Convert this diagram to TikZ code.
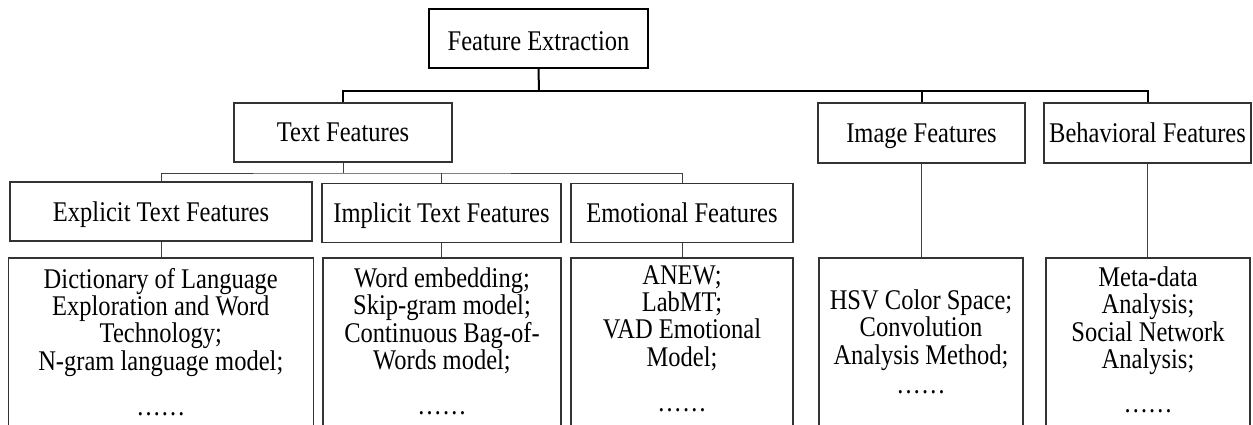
\documentclass[tikz,border=0pt]{standalone}
\usepackage{fontspec}
\setmainfont[FakeStretch=0.86]{Liberation Serif}
\begin{document}
\begin{tikzpicture}[x=1pt,y=-1pt,
  every node/.style={font=\fontsize{28.5}{25.5}\selectfont},
  box/.style={draw=black!80,line width=1.1pt,rectangle,inner sep=0pt},
  hbox/.style={box,text height=19pt,text depth=0pt,minimum height=59pt},
  detail/.style={box,minimum height=174pt},
  body/.style={anchor=base,inner sep=0pt},
  main/.style={line width=2pt,black},
  sub/.style={line width=0.9pt,black!75}]
\clip (0,0) rectangle (1253,425);
\fill[white] (0,0) rectangle (1253,425);
% level 0
\node[hbox,line width=1.3pt,draw=black,minimum width=219pt,text height=25pt] (fe) at (538.5,38.5) {Feature Extraction};
% level 1
\node[hbox,minimum width=218pt] (tf) at (343,132.5) {Text Features};
\node[hbox,minimum width=207pt,minimum height=60pt] (img) at (921.5,133) {Image Features};
\node[hbox,minimum width=207pt,minimum height=60pt] (beh) at (1147.5,133) {Behavioral Features};
% level 2
\node[hbox,minimum width=302pt] (ex) at (161,211.5) {Explicit Text Features};
\node[hbox,minimum width=239pt] (im) at (441.5,213) {Implicit Text Features};
\node[hbox,minimum width=222pt] (emo) at (682,212.7) {Emotional Features};
% detail boxes
\node[detail,minimum width=305pt] (exd) at (160.8,345) {};
\node[detail,minimum width=238pt] (imd) at (442,345) {};
\node[detail,minimum width=222pt] (emod) at (682,345) {};
\node[detail,minimum width=204pt] (imgd) at (921,345) {};
\node[detail,minimum width=204pt] (behd) at (1148,345) {};
% detail texts
\node[body] (exdt) at (160.8,288) {\begin{tabular}[t]{@{}c@{}}Dictionary of Language\\Exploration and Word\\Technology;\\N-gram language model;\\[20pt]……\end{tabular}};
\node[body] (imdt) at (442,287) {\begin{tabular}[t]{@{}c@{}}Word embedding;\\Skip-gram model;\\Continuous Bag-of-\\Words model;\\[19pt]……\end{tabular}};
\node[body] (emodt) at (682,284) {\begin{tabular}[t]{@{}c@{}}ANEW;\\LabMT;\\VAD Emotional\\Model;\\[20pt]……\end{tabular}};
\node[body] (imgdt) at (921,309.5) {\begin{tabular}[t]{@{}c@{}}HSV Color Space;\\Convolution\\Analysis Method;\\[4pt]……\end{tabular}};
\node[body] (behdt) at (1148,286.5) {\begin{tabular}[t]{@{}c@{}}Meta-data\\Analysis;\\Social Network\\Analysis;\\[18pt]……\end{tabular}};
% connectors level 0 -> 1
\coordinate (bus1) at (539,91.5);
\draw[main] (fe.south) -- (bus1);
\draw[main] (tf.north) |- (bus1) -| (beh.north);
\draw[main] (img.north) -- (img.north |- bus1);
% connectors level 1 -> 2
\coordinate (bus2) at (343,173);
\draw[sub] (tf.south) -- (bus2);
\draw[sub] (ex.north) |- (bus2) -| (emo.north);
\draw[sub] (im.north) -- (im.north |- bus2);
% header -> detail
\draw[sub] (ex.south) -- (exd.north -| ex.south);
\draw[sub] (im.south) -- (imd.north -| im.south);
\draw[sub] (emo.south) -- (emod.north -| emo.south);
\draw[sub] (img.south) -- (imgd.north -| img.south);
\draw[sub] (beh.south) -- (behd.north -| beh.south);
\end{tikzpicture}
\end{document}
